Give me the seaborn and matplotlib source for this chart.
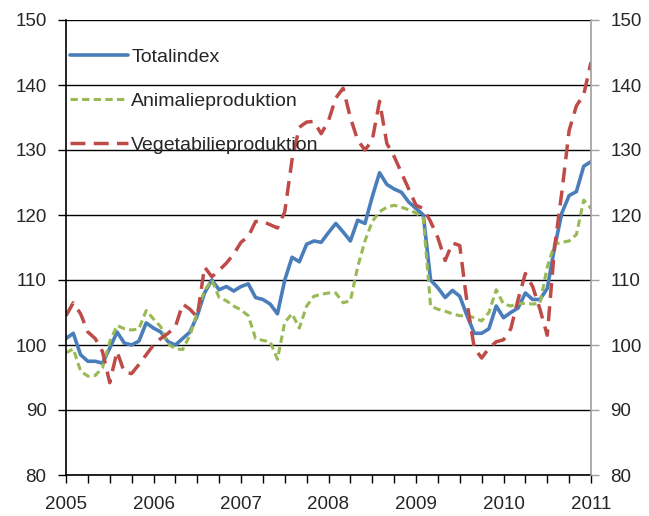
import matplotlib
matplotlib.use('Agg')
import matplotlib.pyplot as plt
import matplotlib.ticker as mticker
import numpy as np
import pandas as pd
import seaborn as sns

# monthly index values, Jan 2005 .. Jan 2011
totalindex = [101, 101.8, 98.5, 97.5, 97.5, 97.2, 99.5, 102, 100.3, 100, 100.6, 103.4,
              102.6, 102, 100.5, 100, 101, 102, 104.5, 108, 110, 108.5, 109, 108.3,
              109, 109.4, 107.3, 107, 106.3, 104.8, 110, 113.5, 112.8, 115.5, 116, 115.8,
              117.3, 118.7, 117.4, 116, 119.2, 118.7, 122.8, 126.5, 124.7, 124, 123.5, 122,
              121, 120, 110, 108.8, 107.3, 108.4, 107.5, 104.5, 101.8, 101.8, 102.5, 106,
              104.2, 105, 105.7, 108, 107, 107, 108.7, 115, 120.3, 123, 123.6, 127.5, 128.2]
animalie = [98.8, 99.4, 96, 95.2, 95.3, 96.5, 100.5, 103, 102.5, 102.3, 102.5, 105.3,
            104, 102.8, 100.2, 99.4, 99.3, 101.5, 105, 108.4, 110, 107.3, 106.8, 106,
            105.4, 104.5, 101, 100.7, 100.5, 97.8, 103.5, 104.8, 102.6, 106, 107.5, 107.8,
            108, 108, 106.5, 106.8, 112, 116, 119, 120.5, 121.2, 121.5, 121.2, 120.8,
            120.3, 119.5, 106, 105.5, 105.2, 104.8, 104.5, 104.5, 104.2, 103.7, 105, 108.5,
            106.3, 106, 106.4, 106.4, 106.3, 106.4, 112, 115.5, 115.8, 116, 117, 122.3, 121]
vegetabilie = [104.5, 106.5, 104.8, 102, 101, 99, 94.2, 99, 95.8, 95.6, 97, 98.5,
               100, 101, 101.8, 102.8, 106.3, 105.5, 104.3, 112, 110.5, 111.5, 112.6, 114,
               115.8, 116.7, 119, 119, 118.5, 118, 120.5, 128.5, 133.5, 134.3, 134.4, 132.5,
               134.5, 138, 139.5, 135, 131.5, 130, 131.5, 137.5, 131, 129, 126.5, 124,
               121.5, 121, 119, 116.5, 113, 115.7, 115.3, 106.5, 99.5, 98, 99.5, 100.5,
               100.8, 102.5, 107, 111, 109, 105.5, 101.5, 115, 123.5, 133, 136.8, 138.5, 143.5]
labels = ['Totalindex', 'Animalieproduktion', 'Vegetabilieproduktion']
colors = ['#4a7ebb', '#98b954', '#be4b48']
years = list(range(2005, 2012))

x = 2005 + np.arange(len(totalindex)) / 12
df = pd.DataFrame({'x': np.tile(x, 3),
                   'value': totalindex + animalie + vegetabilie,
                   'serie': np.repeat(labels, len(x))})

sns.set_style('white')
plt.rcParams['font.family'] = ['Liberation Sans', 'DejaVu Sans']

fig = plt.figure(figsize=(6.49, 5.16), dpi=100)
ax = fig.add_axes([66 / 649, 1 - 475 / 516, 525 / 649, 455 / 516])

styles = {'Totalindex': dict(lw=2.6),
          'Animalieproduktion': dict(lw=2.2, dashes=(2.4, 1.4)),
          'Vegetabilieproduktion': dict(lw=2.5, dashes=(4.3, 2.4))}
for lab, col in zip(labels, colors):
    sns.lineplot(data=df[df['serie'] == lab], x='x', y='value', color=col, ax=ax,
                 label=lab, **styles[lab])

ax.set_xlim(2005, 2011)
ax.set_ylim(80, 150)
ax.set_yticks(range(80, 151, 10))
ax.set_xticks(years)
ax.xaxis.set_minor_locator(mticker.MultipleLocator(0.25))
ax.set_xlabel('')
ax.set_ylabel('')
ax.yaxis.grid(True, color='black', lw=1)
ax.set_axisbelow(True)
for s in ['top', 'right']:
    ax.spines[s].set_visible(False)
for s in ['left', 'bottom']:
    ax.spines[s].set_color('black')
    ax.spines[s].set_linewidth(1.2)
ax.tick_params(axis='y', left=True, length=6, width=1, color='black', labelsize=13.5, pad=8)
ax.tick_params(axis='x', which='both', bottom=True, length=6, width=1, color='black',
               labelsize=13.5, pad=9)
ax.tick_params(axis='x', which='minor', labelbottom=False)

ax2 = ax.twinx()
ax2.set_ylim(80, 150)
ax2.set_yticks(range(80, 151, 10))
for s in ['top', 'left', 'bottom']:
    ax2.spines[s].set_visible(False)
ax2.spines['right'].set_color('#a0a0a0')
ax2.spines['right'].set_linewidth(1.2)
ax2.tick_params(axis='y', right=True, length=6, width=1, color='#a0a0a0', labelsize=13.5, pad=8)

ax.legend(loc='upper left', bbox_to_anchor=(0.0, 0.946), frameon=False, fontsize=14,
          handlelength=3.0, handletextpad=0.15, labelspacing=1.36, borderaxespad=0,
          borderpad=0.2)

fig.savefig('out.png', dpi=100)
